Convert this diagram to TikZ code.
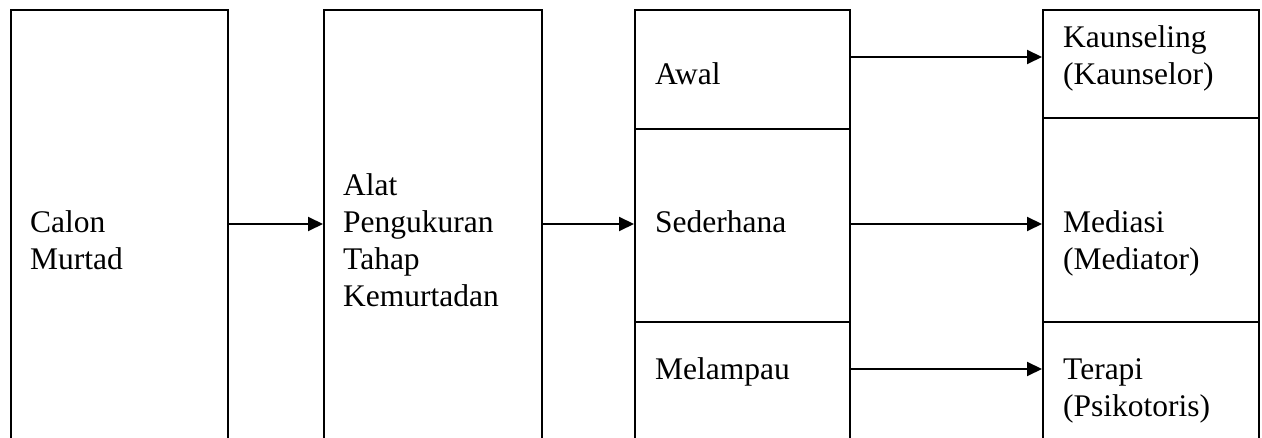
\documentclass[tikz,border=0pt]{standalone}
\usepackage{fontspec}
\setmainfont{Liberation Serif}
\usetikzlibrary{arrows.meta,positioning}

\tikzset{
  cell/.style={draw, line width=1.6pt, inner sep=0pt, anchor=north west},
  lbl/.style={anchor=base west, inner sep=0pt, align=left,
    font=\fontsize{31.5}{37}\selectfont},
  flow/.style={-{Triangle[length=15pt,width=14pt]}, line width=2pt}
}

\begin{document}
\begin{tikzpicture}[x=1pt, y=-1pt]
    \useasboundingbox (0,0) rectangle (1262,438);
    \clip (0,0) rectangle (1262,438);

    % Calon Murtad
    \node[cell, line width=2pt, minimum width=217pt, minimum height=460pt] (calon) at (10,9) {};
    \node[lbl] (calontxt) at (30,270) {Calon\\Murtad};

    % Alat Pengukuran
    \node[cell, line width=2pt, minimum width=218pt, minimum height=460pt] (alat) at (323,9) {};
    \node[lbl] (alattxt) at (343,307) {Alat\\Pengukuran\\Tahap\\Kemurtadan};

    % Tahap
    \node[cell, minimum width=215pt, minimum height=119pt] (awal) at (634,9) {};
    \node[cell, minimum width=215pt, minimum height=193pt] (sederhana) at (634,128) {};
    \node[cell, minimum width=215pt, minimum height=150pt] (melampau) at (634,321) {};
    \node[lbl] (awaltxt) at (655,85) {Awal};
    \node[lbl] (sederhanatxt) at (655,233) {Sederhana};
    \node[lbl] (melampautxt) at (655,380) {Melampau};

    % Rawatan
    \node[cell, minimum width=216pt, minimum height=108pt] (kaunseling) at (1042,9) {};
    \node[cell, minimum width=216pt, minimum height=204pt] (mediasi) at (1042,117) {};
    \node[cell, minimum width=216pt, minimum height=150pt] (terapi) at (1042,321) {};
    \node[lbl] (kaunselingtxt) at (1063,85) {Kaunseling\\(Kaunselor)};
    \node[lbl] (mediasitxt) at (1063,270) {Mediasi\\(Mediator)};
    \node[lbl] (terapitxt) at (1063,417) {Terapi\\(Psikotoris)};

    % Arrows
    \coordinate (row1) at (0,57);
    \coordinate (row2) at (0,224);
    \coordinate (row3) at (0,369);
    \draw[flow] (calon.east |- row2) -- (alat.west |- row2);
    \draw[flow] (alat.east |- row2) -- (sederhana.west |- row2);
    \draw[flow] (awal.east |- row1) -- (kaunseling.west |- row1);
    \draw[flow] (sederhana.east |- row2) -- (mediasi.west |- row2);
    \draw[flow] (melampau.east |- row3) -- (terapi.west |- row3);
\end{tikzpicture}
\end{document}
